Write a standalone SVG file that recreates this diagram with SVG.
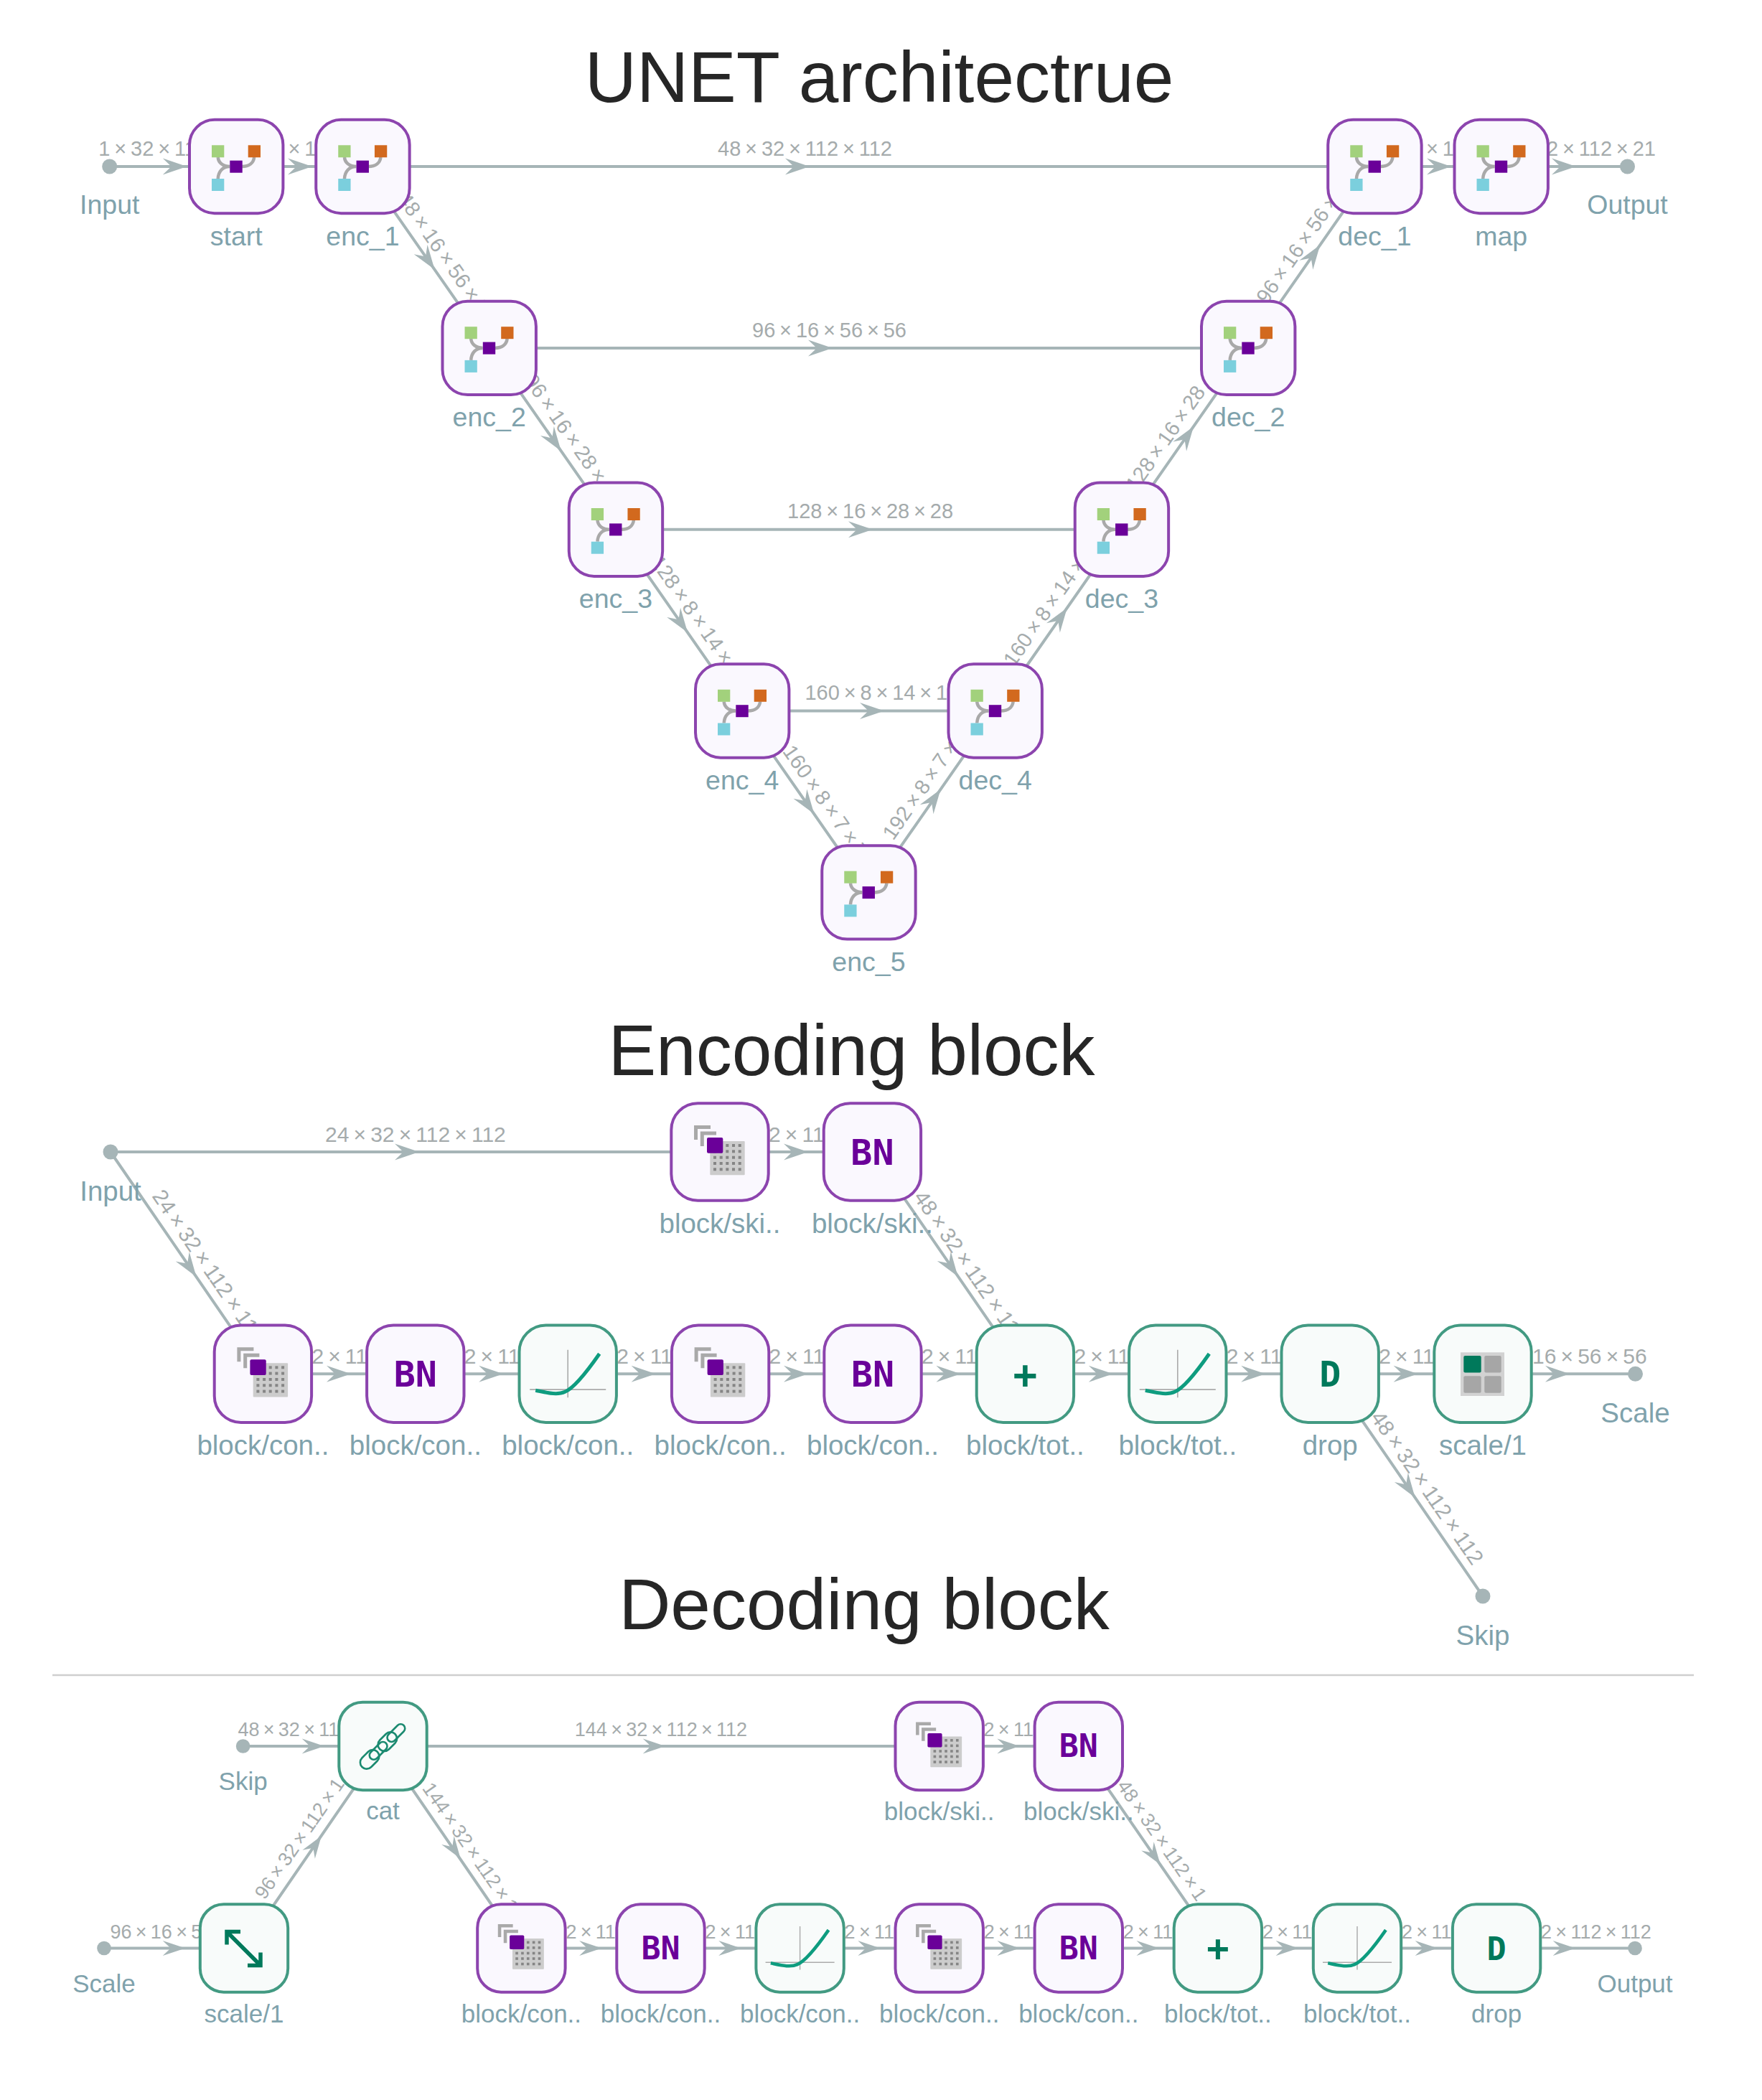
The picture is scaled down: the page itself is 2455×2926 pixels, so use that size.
<svg xmlns="http://www.w3.org/2000/svg" xmlns:xlink="http://www.w3.org/1999/xlink" width="2455" height="2926" viewBox="0 0 2455 2926">
<style>
text{font-family:"Liberation Sans",Arial,sans-serif}
.t{font-size:100px;fill:#262626;text-anchor:middle}
.l{fill:#7fa2ac;text-anchor:middle}
.lt{font-size:37.5px}.le{font-size:38.5px}.ld{font-size:35px}
.e{fill:#a5abac;word-spacing:-2.2px}
.et{font-size:29px}.ee{font-size:30px}.ed{font-size:27px}
.c{stroke:#a6b5b7;stroke-width:4;fill:none}
.a{fill:#a6b5b7}
.dot{fill:#a6b5b7}
.p{fill:#faf8fe;stroke:#8c44ae;stroke-width:4}
.g{fill:#f8fbfa;stroke:#429a82;stroke-width:4}
.m{font-family:"DejaVu Sans Mono","Liberation Mono",monospace;font-weight:700;text-anchor:middle}
.bn{fill:#6a0099}.dk{fill:#00795b}
.s50{font-size:50px}.s45{font-size:45px}.s56{font-size:56px}.s52{font-size:52px}
</style>
<defs>
<path id="ah" d="M0,0 L-34,-11.5 L-22,0 L-34,11.5 Z"/>
<rect id="bt" class="p" x="-65.2" y="-65.2" width="130.4" height="130.4" rx="35"/>
<rect id="bep" class="p" x="-67.7" y="-67.7" width="135.4" height="135.4" rx="37"/>
<rect id="beg" class="g" x="-67.7" y="-67.7" width="135.4" height="135.4" rx="37"/>
<rect id="bdp" class="p" x="-61.2" y="-61.2" width="122.4" height="122.4" rx="33"/>
<rect id="bdg" class="g" x="-61.2" y="-61.2" width="122.4" height="122.4" rx="33"/>
<g id="merge">
<path d="M-25.5,-13 C-25,-5 -18,0 -9,0 M25,-13 C24,-5 18,0 8,0 M-25.5,17 C-25,7 -19,0 -9,0" fill="none" stroke="#a9a9a9" stroke-width="4.5"/>
<rect x="-34.2" y="-29.7" width="17.3" height="17" fill="#a2d17c"/>
<rect x="16.5" y="-29.7" width="17.3" height="17" fill="#d2691e"/>
<rect x="-34.2" y="17" width="17.3" height="17" fill="#7bcfdd"/>
<rect x="-8.9" y="-8.3" width="17.4" height="17" fill="#6a0099"/>
</g>
<g id="conv">
<rect x="-13.7" y="-15" width="48.4" height="47.3" fill="#cccccc" rx="1"/>
<g fill="#858585">
<rect x="-9" y="-11" width="4" height="4"/><rect x="-.3" y="-11" width="4" height="4"/><rect x="8.3" y="-11" width="4" height="4"/><rect x="17" y="-11" width="4" height="4"/><rect x="25.7" y="-11" width="4" height="4"/>
<rect x="-9" y="-2.7" width="4" height="4"/><rect x="-.3" y="-2.7" width="4" height="4"/><rect x="8.3" y="-2.7" width="4" height="4"/><rect x="17" y="-2.7" width="4" height="4"/><rect x="25.7" y="-2.7" width="4" height="4"/>
<rect x="-9" y="5.7" width="4" height="4"/><rect x="-.3" y="5.7" width="4" height="4"/><rect x="8.3" y="5.7" width="4" height="4"/><rect x="17" y="5.7" width="4" height="4"/><rect x="25.7" y="5.7" width="4" height="4"/>
<rect x="-9" y="14" width="4" height="4"/><rect x="-.3" y="14" width="4" height="4"/><rect x="8.3" y="14" width="4" height="4"/><rect x="17" y="14" width="4" height="4"/><rect x="25.7" y="14" width="4" height="4"/>
<rect x="-9" y="22.3" width="4" height="4"/><rect x="-.3" y="22.3" width="4" height="4"/><rect x="8.3" y="22.3" width="4" height="4"/><rect x="17" y="22.3" width="4" height="4"/><rect x="25.7" y="22.3" width="4" height="4"/>
</g>
<path d="M-33.5,-17 V-34.5 H-13 M-24.7,-8 V-26 H-5" fill="none" stroke="#a9a9a9" stroke-width="5"/>
<rect x="-18" y="-20" width="22.3" height="21.7" rx="2" fill="#6a0099"/>
</g>
<g id="act">
<path d="M0,-33.6 V33 M-53,21.8 H53" stroke="#ababab" stroke-width="1.6" fill="none"/>
<path d="M-45,23 C-30,26 -15,30 -4,25 C8,20 28,-5 44,-28" stroke="#0e9c7f" stroke-width="5" fill="none"/>
</g>
<g id="grid">
<rect x="-31" y="-30" width="61" height="60.7" fill="#d2d2d2"/>
<rect x="-26.7" y="-25.3" width="24.4" height="23.5" rx="2" fill="#00795b"/>
<rect x="2.3" y="-25.3" width="23.4" height="23.5" rx="2" fill="#a6a6a6"/>
<rect x="-26.7" y="3" width="24.4" height="23.4" rx="2" fill="#a6a6a6"/>
<rect x="2.3" y="3" width="23.4" height="23.4" rx="2" fill="#a6a6a6"/>
</g>
</defs>
<rect width="2455" height="2926" fill="#ffffff"/>
<text class="t" x="1225" y="141.5">UNET architectrue</text>
<text class="t" x="1186.5" y="1498">Encoding block</text>
<text class="t" x="1204" y="2270">Decoding block</text>
<line x1="73" y1="2334" x2="2360" y2="2334" stroke="#cfcfcf" stroke-width="2.5"/>

<g id="connectors">
<g id="edges-unet">
<path class="c" d="M152.7,232 H2267.5"/>
<path class="c" d="M681.7,484.9 H1739.2 M857.95,737.7 H1562.95 M1034.2,990.5 H1386.7"/>
<path class="c" d="M505.45,232 L681.7,484.9 L857.95,737.7 L1034.2,990.5 L1210.45,1243.4 L1386.7,990.5 L1562.95,737.7 L1739.2,484.9 L1915.45,232"/>
<g class="a">
<use href="#ah" transform="translate(260.7 232)"/>
<use href="#ah" transform="translate(435 232)"/>
<use href="#ah" transform="translate(1128 232)"/>
<use href="#ah" transform="translate(2022 232)"/>
<use href="#ah" transform="translate(2196 232)"/>
<use href="#ah" transform="translate(1160 484.9)"/>
<use href="#ah" transform="translate(1216 737.7)"/>
<use href="#ah" transform="translate(1232 990.5)"/>
<use href="#ah" transform="translate(505.45 232) rotate(55.1) translate(175 0)"/>
<use href="#ah" transform="translate(681.7 484.9) rotate(55.1) translate(175 0)"/>
<use href="#ah" transform="translate(857.95 737.7) rotate(55.1) translate(175 0)"/>
<use href="#ah" transform="translate(1034.2 990.5) rotate(55.1) translate(175 0)"/>
<use href="#ah" transform="translate(1210.45 1243.4) rotate(-55.1) translate(175 0)"/>
<use href="#ah" transform="translate(1386.7 990.5) rotate(-55.1) translate(175 0)"/>
<use href="#ah" transform="translate(1562.95 737.7) rotate(-55.1) translate(175 0)"/>
<use href="#ah" transform="translate(1739.2 484.9) rotate(-55.1) translate(175 0)"/>
</g>
<g class="e et">
<text x="137.3" y="216.7">1 × 32 × 11</text>
<text x="401.5" y="216.7">× 1</text>
<text x="1000" y="216.7">48 × 32 × 112 × 112</text>
<text x="1987" y="216.7">× 1</text>
<text x="2155" y="216.7">2 × 112 × 21</text>
<text x="1048" y="469.5">96 × 16 × 56 × 56</text>
<text x="1097" y="722.2">128 × 16 × 28 × 28</text>
<text x="1121.4" y="975">160 × 8 × 14 × 14</text>
<text transform="translate(505.45 232) rotate(55.1)" x="64" y="-13">48 × 16 × 56 × 5</text>
<text transform="translate(681.7 484.9) rotate(55.1)" x="64" y="-13">96 × 16 × 28 × 2</text>
<text transform="translate(857.95 737.7) rotate(55.1)" x="64" y="-13">128 × 8 × 14 × 1</text>
<text transform="translate(1034.2 990.5) rotate(55.1)" x="78" y="-13">160 × 8 × 7 × 7</text>
<text transform="translate(1210.45 1243.4) rotate(-55.1)" x="78" y="-13">192 × 8 × 7 ×</text>
<text transform="translate(1386.7 990.5) rotate(-55.1)" x="64" y="-13">160 × 8 × 14 ×</text>
<text transform="translate(1562.95 737.7) rotate(-55.1)" x="54" y="-13">128 × 16 × 28</text>
<text transform="translate(1739.2 484.9) rotate(-55.1)" x="64" y="-13">96 × 16 × 56 ×</text>
</g>
</g>
<g id="edges-encoding">
<path class="c" d="M154,1605 H1215.4 M366.4,1914.3 H2278.5 M154,1605 L366.4,1914.3 M1215.4,1605 L1428.4,1914.3 M1853.2,1914.3 L2066,2224"/>
<g class="a">
<use href="#ah" transform="translate(584 1605)"/>
<use href="#ah" transform="translate(1126 1605)"/>
<use href="#ah" transform="translate(489 1914.3)"/>
<use href="#ah" transform="translate(701.2 1914.3)"/>
<use href="#ah" transform="translate(913.6 1914.3)"/>
<use href="#ah" transform="translate(1126 1914.3)"/>
<use href="#ah" transform="translate(1338.4 1914.3)"/>
<use href="#ah" transform="translate(1550.8 1914.3)"/>
<use href="#ah" transform="translate(1763.2 1914.3)"/>
<use href="#ah" transform="translate(1975.6 1914.3)"/>
<use href="#ah" transform="translate(2187 1914.3)"/>
<use href="#ah" transform="translate(154 1605) rotate(55.5) translate(211 0)"/>
<use href="#ah" transform="translate(1215.4 1605) rotate(55.5) translate(210.4 0)"/>
<use href="#ah" transform="translate(1853.2 1914.3) rotate(55.5) translate(209 0)"/>
</g>
<g class="e ee">
<text x="453" y="1590.7">24 × 32 × 112 × 112</text>
<text x="1071" y="1590.7">2 × 11</text>
<text x="434.4" y="1900">2 × 11</text>
<text x="646.8" y="1900">2 × 11</text>
<text x="859.2" y="1900">2 × 11</text>
<text x="1071.6" y="1900">2 × 11</text>
<text x="1284" y="1900">2 × 11</text>
<text x="1496.4" y="1900">2 × 11</text>
<text x="1708.8" y="1900">2 × 11</text>
<text x="1921.2" y="1900">2 × 11</text>
<text x="2135" y="1900">16 × 56 × 56</text>
<text transform="translate(154 1605) rotate(55.5)" x="83" y="-12">24 × 32 × 112 × 11</text>
<text transform="translate(1215.4 1605) rotate(55.5)" x="84" y="-11">48 × 32 × 112 × 11</text>
<text transform="translate(1853.2 1914.3) rotate(55.5)" x="81.5" y="-11.5">48 × 32 × 112 × 112</text>
</g>
</g>
<g id="edges-decoding">
<path class="c" d="M338.6,2433 H1502.8 M145,2714.5 H340 M726.4,2714.5 H2278 M340,2714.5 L533.5,2433 L726.4,2714.5 M1502.8,2433 L1696.9,2714.5"/>
<g class="a">
<use href="#ah" transform="translate(452 2433) scale(.92)"/>
<use href="#ah" transform="translate(927 2433) scale(.92)"/>
<use href="#ah" transform="translate(1420.7 2433) scale(.92)"/>
<use href="#ah" transform="translate(258 2714.5) scale(.92)"/>
<use href="#ah" transform="translate(838.4 2714.5) scale(.92)"/>
<use href="#ah" transform="translate(1032.5 2714.5) scale(.92)"/>
<use href="#ah" transform="translate(1226.6 2714.5) scale(.92)"/>
<use href="#ah" transform="translate(1420.7 2714.5) scale(.92)"/>
<use href="#ah" transform="translate(1614.8 2714.5) scale(.92)"/>
<use href="#ah" transform="translate(1808.9 2714.5) scale(.92)"/>
<use href="#ah" transform="translate(2003 2714.5) scale(.92)"/>
<use href="#ah" transform="translate(2195 2714.5) scale(.92)"/>
<use href="#ah" transform="translate(340 2714.5) rotate(-55.4) translate(190 0) scale(.92)"/>
<use href="#ah" transform="translate(533.5 2433) rotate(55.4) translate(190.5 0) scale(.92)"/>
<use href="#ah" transform="translate(1502.8 2433) rotate(55.4) translate(200.6 0) scale(.92)"/>
</g>
<g class="e ed">
<text x="331.4" y="2419">48 × 32 × 11</text>
<text x="800.8" y="2419">144 × 32 × 112 × 112</text>
<text x="1370.5" y="2419">2 × 11</text>
<text x="153.4" y="2701">96 × 16 × 5</text>
<text x="788.4" y="2701">2 × 11</text>
<text x="982.5" y="2701">2 × 11</text>
<text x="1176.6" y="2701">2 × 11</text>
<text x="1370.7" y="2701">2 × 11</text>
<text x="1564.8" y="2701">2 × 11</text>
<text x="1758.9" y="2701">2 × 11</text>
<text x="1953" y="2701">2 × 11</text>
<text x="2147" y="2701">2 × 112 × 112</text>
<text transform="translate(340 2714.5) rotate(-55.4)" x="71" y="-14">96 × 32 × 112 × 1</text>
<text transform="translate(533.5 2433) rotate(55.4)" x="79" y="-11">144 × 32 × 112 × 1</text>
<text transform="translate(1502.8 2433) rotate(55.4)" x="75.5" y="-12">48 × 32 × 112 × 1</text>
</g>
</g>
</g>

<g id="unet">
<g id="u-input" transform="translate(152.7 232)"><circle class="dot" r="10.5"/><text class="l lt" y="66">Input</text></g>
<g id="u-start" transform="translate(329.2 232)"><use href="#bt"/><use href="#merge"/><text class="l lt" y="109.5">start</text></g>
<g id="u-enc1" transform="translate(505.45 232)"><use href="#bt"/><use href="#merge"/><text class="l lt" y="109.5">enc_1</text></g>
<g id="u-enc2" transform="translate(681.7 484.9)"><use href="#bt"/><use href="#merge"/><text class="l lt" y="109.5">enc_2</text></g>
<g id="u-enc3" transform="translate(857.95 737.7)"><use href="#bt"/><use href="#merge"/><text class="l lt" y="109.5">enc_3</text></g>
<g id="u-enc4" transform="translate(1034.2 990.5)"><use href="#bt"/><use href="#merge"/><text class="l lt" y="109.5">enc_4</text></g>
<g id="u-enc5" transform="translate(1210.45 1243.4)"><use href="#bt"/><use href="#merge"/><text class="l lt" y="109.5">enc_5</text></g>
<g id="u-dec4" transform="translate(1386.7 990.5)"><use href="#bt"/><use href="#merge"/><text class="l lt" y="109.5">dec_4</text></g>
<g id="u-dec3" transform="translate(1562.95 737.7)"><use href="#bt"/><use href="#merge"/><text class="l lt" y="109.5">dec_3</text></g>
<g id="u-dec2" transform="translate(1739.2 484.9)"><use href="#bt"/><use href="#merge"/><text class="l lt" y="109.5">dec_2</text></g>
<g id="u-dec1" transform="translate(1915.45 232)"><use href="#bt"/><use href="#merge"/><text class="l lt" y="109.5">dec_1</text></g>
<g id="u-map" transform="translate(2091.7 232)"><use href="#bt"/><use href="#merge"/><text class="l lt" y="109.5">map</text></g>
<g id="u-output" transform="translate(2267.5 232)"><circle class="dot" r="10.5"/><text class="l lt" y="66">Output</text></g>
</g>

<g id="encoding">
<g id="e-input" transform="translate(154 1605)"><circle class="dot" r="10.5"/><text class="l le" y="68">Input</text></g>
<g id="e-skip-conv" transform="translate(1003 1605)"><use href="#bep"/><use href="#conv"/><text class="l le" y="113">block/ski..</text></g>
<g id="e-skip-bn" transform="translate(1215.4 1605)"><use href="#bep"/><text class="m bn s50" y="17.7">BN</text><text class="l le" y="113">block/ski..</text></g>
<g id="e-conv1" transform="translate(366.4 1914.3)"><use href="#bep"/><use href="#conv"/><text class="l le" y="113">block/con..</text></g>
<g id="e-bn1" transform="translate(578.8 1914.3)"><use href="#bep"/><text class="m bn s50" y="17.7">BN</text><text class="l le" y="113">block/con..</text></g>
<g id="e-act1" transform="translate(791.2 1914.3)"><use href="#beg"/><use href="#act"/><text class="l le" y="113">block/con..</text></g>
<g id="e-conv2" transform="translate(1003.6 1914.3)"><use href="#bep"/><use href="#conv"/><text class="l le" y="113">block/con..</text></g>
<g id="e-bn2" transform="translate(1216 1914.3)"><use href="#bep"/><text class="m bn s50" y="17.7">BN</text><text class="l le" y="113">block/con..</text></g>
<g id="e-add" transform="translate(1428.4 1914.3)"><use href="#beg"/><text class="m dk s56" y="19.5">+</text><text class="l le" y="113">block/tot..</text></g>
<g id="e-act2" transform="translate(1640.8 1914.3)"><use href="#beg"/><use href="#act"/><text class="l le" y="113">block/tot..</text></g>
<g id="e-drop" transform="translate(1853.2 1914.3)"><use href="#beg"/><text class="m dk s50" y="17.7">D</text><text class="l le" y="113">drop</text></g>
<g id="e-scale1" transform="translate(2066 1914.3)"><use href="#beg"/><use href="#grid"/><text class="l le" y="113">scale/1</text></g>
<g id="e-scale" transform="translate(2278.5 1914.3)"><circle class="dot" r="10.5"/><text class="l le" y="67.5">Scale</text></g>
<g id="e-skip" transform="translate(2066 2224)"><circle class="dot" r="10.5"/><text class="l le" y="68">Skip</text></g>
</g>

<g id="decoding">
<g id="d-skip" transform="translate(338.6 2433)"><circle class="dot" r="9.8"/><text class="l ld" y="61">Skip</text></g>
<g id="d-scale" transform="translate(145 2714.5)"><circle class="dot" r="9.8"/><text class="l ld" y="61">Scale</text></g>
<g id="d-cat" transform="translate(533.5 2433)"><use href="#bdg"/>
<g transform="rotate(-45)" fill="none" stroke="#1b8a70" stroke-width="2.6"><rect x="-41" y="-9" width="30" height="18" rx="9"/><rect x="-24" y="-6" width="30" height="12" rx="6"/><rect x="-6" y="-9" width="30" height="18" rx="9"/><rect x="11" y="-6" width="30" height="12" rx="6"/></g>
<text class="l ld" y="102">cat</text></g>
<g id="d-scale1" transform="translate(340 2714.5)"><use href="#bdg"/><path d="M-24,-23 L23,24 M-5,-23 H-24 V-5 M5,24 H23 V6" fill="none" stroke="#00795b" stroke-width="5.5"/><text class="l ld" y="103">scale/1</text></g>
<g id="d-skip-conv" transform="translate(1308.7 2433)"><use href="#bdp"/><use href="#conv" transform="scale(.906)"/><text class="l ld" y="103">block/ski..</text></g>
<g id="d-skip-bn" transform="translate(1502.8 2433)"><use href="#bdp"/><text class="m bn s45" y="15.3">BN</text><text class="l ld" y="103">block/ski..</text></g>
<g id="d-conv1" transform="translate(726.4 2714.5)"><use href="#bdp"/><use href="#conv" transform="scale(.906)"/><text class="l ld" y="103">block/con..</text></g>
<g id="d-bn1" transform="translate(920.5 2714.5)"><use href="#bdp"/><text class="m bn s45" y="15.3">BN</text><text class="l ld" y="103">block/con..</text></g>
<g id="d-act1" transform="translate(1114.6 2714.5)"><use href="#bdg"/><use href="#act" transform="scale(.906)"/><text class="l ld" y="103">block/con..</text></g>
<g id="d-conv2" transform="translate(1308.7 2714.5)"><use href="#bdp"/><use href="#conv" transform="scale(.906)"/><text class="l ld" y="103">block/con..</text></g>
<g id="d-bn2" transform="translate(1502.8 2714.5)"><use href="#bdp"/><text class="m bn s45" y="15.3">BN</text><text class="l ld" y="103">block/con..</text></g>
<g id="d-add" transform="translate(1696.9 2714.5)"><use href="#bdg"/><text class="m dk s52" y="17.5">+</text><text class="l ld" y="103">block/tot..</text></g>
<g id="d-act2" transform="translate(1891 2714.5)"><use href="#bdg"/><use href="#act" transform="scale(.906)"/><text class="l ld" y="103">block/tot..</text></g>
<g id="d-drop" transform="translate(2085.1 2714.5)"><use href="#bdg"/><text class="m dk s45" y="16">D</text><text class="l ld" y="103">drop</text></g>
<g id="d-output" transform="translate(2278 2714.5)"><circle class="dot" r="9.8"/><text class="l ld" y="61.5">Output</text></g>
</g>
</svg>
